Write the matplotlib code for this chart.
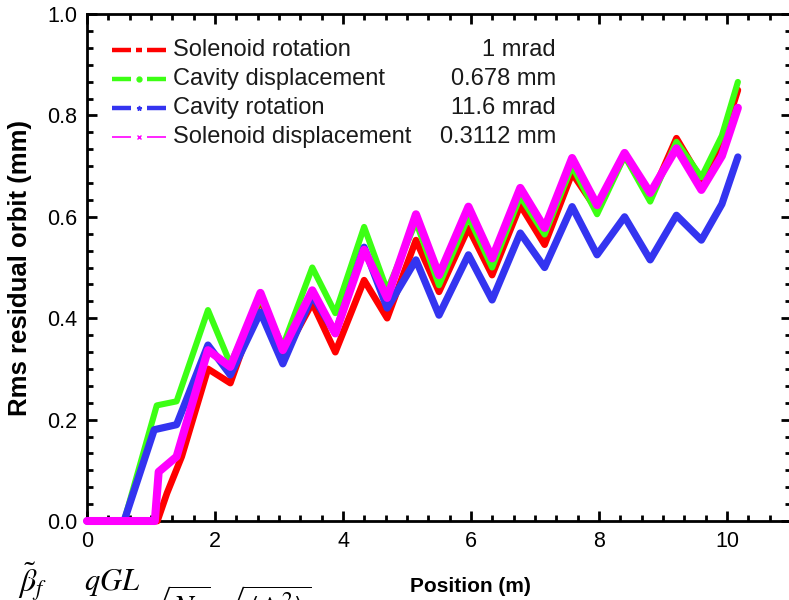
"""Rms residual orbit along the linac for four error sources."""

import matplotlib

matplotlib.use("Agg")

import matplotlib.pyplot as plt
from matplotlib.ticker import MultipleLocator

# oscillation turning points shared by all curves (peak, valley, ...)
osc_pos = [1.89, 2.24, 2.71, 3.06, 3.52, 3.88, 4.33, 4.69, 5.14, 5.50,
           5.96, 6.33, 6.77, 7.15, 7.58, 7.97, 8.40, 8.80, 9.21, 9.60,
           9.92, 10.17]

sol_rot_x = [0.0, 1.10, 1.25, 1.48] + osc_pos
sol_rot_y = [0.0, 0.0, 0.055, 0.127,
             0.300, 0.272, 0.440, 0.323, 0.430, 0.333, 0.475, 0.400,
             0.554, 0.452, 0.578, 0.485, 0.623, 0.545, 0.686, 0.613,
             0.722, 0.637, 0.755, 0.672, 0.750, 0.850]

cav_disp_x = [0.0, 0.58, 1.09, 1.40] + osc_pos
cav_disp_y = [0.0, 0.0, 0.228, 0.236,
              0.416, 0.310, 0.440, 0.345, 0.500, 0.410, 0.580, 0.455,
              0.590, 0.465, 0.600, 0.500, 0.640, 0.565, 0.700, 0.605,
              0.720, 0.630, 0.748, 0.678, 0.760, 0.866]

cav_rot_x = [0.0, 0.58, 1.05, 1.40] + osc_pos
cav_rot_y = [0.0, 0.0, 0.180, 0.190,
             0.347, 0.288, 0.412, 0.310, 0.445, 0.370, 0.540, 0.420,
             0.515, 0.406, 0.525, 0.436, 0.568, 0.500, 0.620, 0.525,
             0.600, 0.515, 0.603, 0.554, 0.625, 0.718]

sol_disp_x = [0.0, 1.06, 1.12, 1.40] + osc_pos
sol_disp_y = [0.0, 0.0, 0.097, 0.127,
              0.337, 0.304, 0.450, 0.337, 0.455, 0.370, 0.535, 0.440,
              0.605, 0.485, 0.620, 0.518, 0.657, 0.578, 0.716, 0.623,
              0.726, 0.647, 0.735, 0.653, 0.720, 0.815]

names = ["Solenoid rotation", "Cavity displacement", "Cavity rotation",
         "Solenoid displacement"]
values = ["1 mrad", "0.678 mm", "11.6 mrad", "0.3112 mm"]

colors = ["#ff0000", "#3cff14", "#3434f0", "#ff00ff"]
widths = [4.8, 4.4, 5.2, 5.8]
series = [(sol_rot_x, sol_rot_y), (cav_disp_x, cav_disp_y),
          (cav_rot_x, cav_rot_y), (sol_disp_x, sol_disp_y)]

plt.rcParams["font.family"] = ["Liberation Sans", "DejaVu Sans"]
plt.rcParams["mathtext.fontset"] = "stix"

fig = plt.figure(figsize=(7.89, 6.0), dpi=100)
ax = fig.add_axes([87 / 789, 1 - 521 / 600, 704 / 789, 507 / 600])

for (xs, ys), c, lw in zip(series, colors, widths):
    ax.plot(xs, ys, color=c, linewidth=lw, solid_joinstyle="round",
            solid_capstyle="round", clip_on=False, zorder=3)

ax.set_xlim(0, 11)
ax.set_ylim(0, 1.0)
ax.xaxis.set_major_locator(MultipleLocator(2))
ax.xaxis.set_minor_locator(MultipleLocator(2 / 6))
ax.yaxis.set_major_locator(MultipleLocator(0.2))
ax.yaxis.set_minor_locator(MultipleLocator(0.2 / 6))
ax.yaxis.set_major_formatter(plt.FormatStrFormatter("%.1f"))
ax.tick_params(which="both", direction="in", top=True, right=True,
               width=2.0, labelsize=15.5, colors="black")
ax.tick_params(which="major", length=7, pad=7)
ax.tick_params(which="minor", length=4)
for spine in ax.spines.values():
    spine.set_linewidth(2.0)

ax.set_xlabel("Position (m)", fontsize=15, fontweight="bold")
ax.xaxis.set_label_coords(0.544, -0.11)
ax.set_ylabel("Rms residual orbit (mm)", fontsize=18.5, fontweight="bold")
ax.yaxis.set_label_coords(-0.078, 0.50)

# hand-made legend: sample line, name, value
to_ax = ax.transAxes.inverted()
for i, (name, val, c, lw) in enumerate(zip(names, values, colors, widths)):
    ypx = 50 + i * 29
    yax = to_ax.transform(fig.transFigure.transform((0, 1 - ypx / 600)))[1]
    xa = [to_ax.transform(fig.transFigure.transform((p / 789, 0)))[0]
          for p in (112, 131, 139, 147, 166, 173, 556)]
    seg_lw = 3.2 if i != 3 else 1.2
    ax.plot([xa[0], xa[1]], [yax, yax], transform=ax.transAxes,
            color=c, linewidth=seg_lw, solid_capstyle="butt")
    ax.plot([xa[3], xa[4]], [yax, yax], transform=ax.transAxes,
            color=c, linewidth=seg_lw, solid_capstyle="butt")
    if i == 0:
        ax.plot([xa[2] - 0.004, xa[2] + 0.004], [yax, yax],
                transform=ax.transAxes, color=c, linewidth=seg_lw,
                solid_capstyle="butt")
    else:
        mk = {1: "o", 2: "*", 3: "x"}[i]
        ax.plot([xa[2]], [yax], transform=ax.transAxes, color=c,
                marker=mk, markersize=3.5, markeredgewidth=1.0,
                linestyle="none")
    ax.text(xa[5], yax, name, transform=ax.transAxes, fontsize=17,
            va="center", ha="left", color="#1a1a1a")
    ax.text(xa[6], yax, val, transform=ax.transAxes, fontsize=17,
            va="center", ha="right", color="#1a1a1a")

# fragment of the page text below the figure (cropped, as in the source)
fig.text(18 / 789, 1 - 592 / 600, r"$\tilde{\beta}_f$", fontsize=23)
fig.text(84 / 789, 1 - 590 / 600, r"$qGL$", fontsize=22)
fig.text(140 / 789, 1 - 618 / 600,
         r"$\sqrt{N_q}\;\sqrt{\langle\Delta^2\rangle}$", fontsize=22)

fig.savefig("out.png", dpi=100)
plt.close(fig)
